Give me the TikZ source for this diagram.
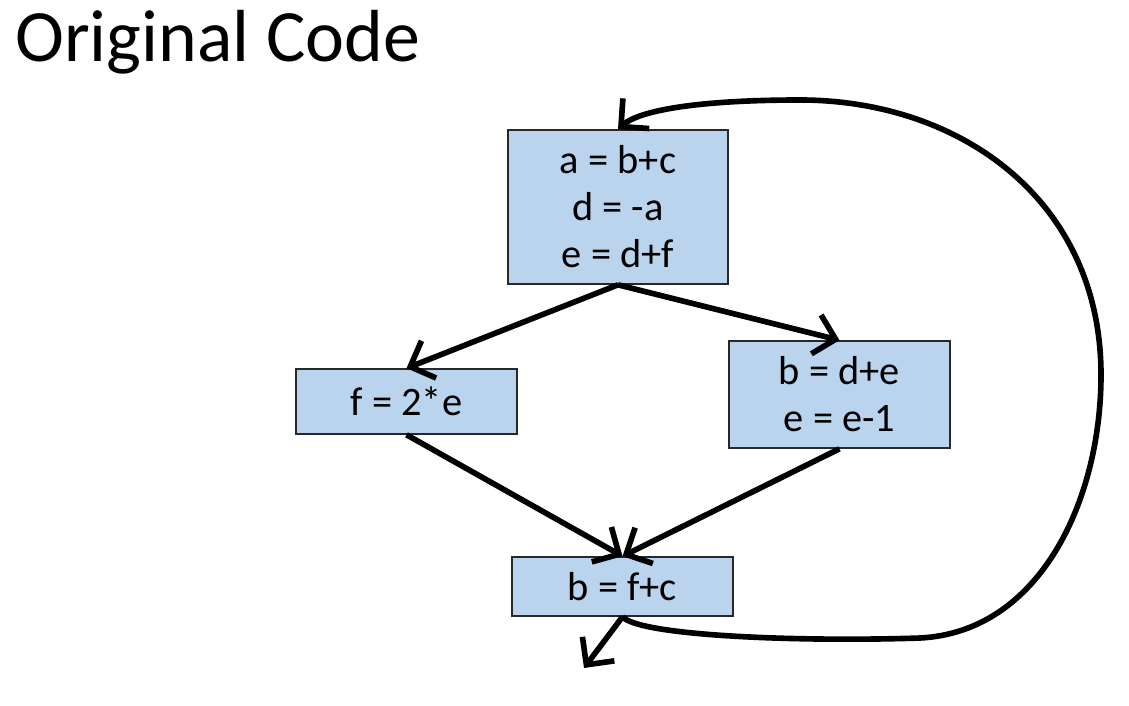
\documentclass[tikz,border=0pt]{standalone}
\usepackage{fontspec}
\setmainfont{Carlito}
\usetikzlibrary{arrows.meta,positioning}
\definecolor{boxblue}{RGB}{185,212,236}
\definecolor{boxline}{RGB}{40,40,40}

\begin{document}
\begin{tikzpicture}[
    block/.style={rectangle, draw=boxline, line width=0.9pt, fill=boxblue, minimum width=4.42cm, align=center, inner sep=0pt, font=\fontsize{23}{26.7}\selectfont},
    flow/.style={-{Straight Barb[length=4mm, width=8mm]}, line width=3.2pt}
]
    \useasboundingbox (0,0) rectangle (22.58,-14.12);
    % Title
    \node[anchor=base west, inner sep=0pt, font=\fontsize{42}{48}\selectfont] (title) at (0.3,-1.24) {Original Code};

    % Basic blocks
    \node[block, minimum width=4.4cm, minimum height=3.08cm] (b1) at (12.36,-4.14) {a = b+c\\d = -a\\e = d+f};
    \node[block, minimum height=1.3cm] (b2) at (8.13,-8.03) {f = 2*e};
    \node[block, minimum height=2.14cm] (b3) at (16.79,-7.89) {b = d+e\\e = e-1};
    \node[block, minimum height=1.18cm] (b4) at (12.45,-11.73) {b = f+c};
    \coordinate (exit) at (11.68,-13.36);

    % Edges
    \draw[flow] (b1.south) -- (b2.north);
    \draw[flow] (b1.south) -- (b3.north);
    \draw[flow] (b2.south) -- (b4.north);
    \draw[flow] (b3.south) -- (b4.north);
    \draw[flow] (b4.south) -- (exit);

    % Back edge
    \draw[flow] (b4.south) .. controls (12.8,-12.72) and (16,-12.84) .. (18.4,-12.76)
        .. controls (20.8,-12.64) and (22.02,-10) .. (22.02,-7.5)
        .. controls (22.02,-4) and (19.2,-2) .. (16,-2)
        .. controls (14,-2) and (12.8,-2.2) .. (b1.north);
\end{tikzpicture}
\end{document}
